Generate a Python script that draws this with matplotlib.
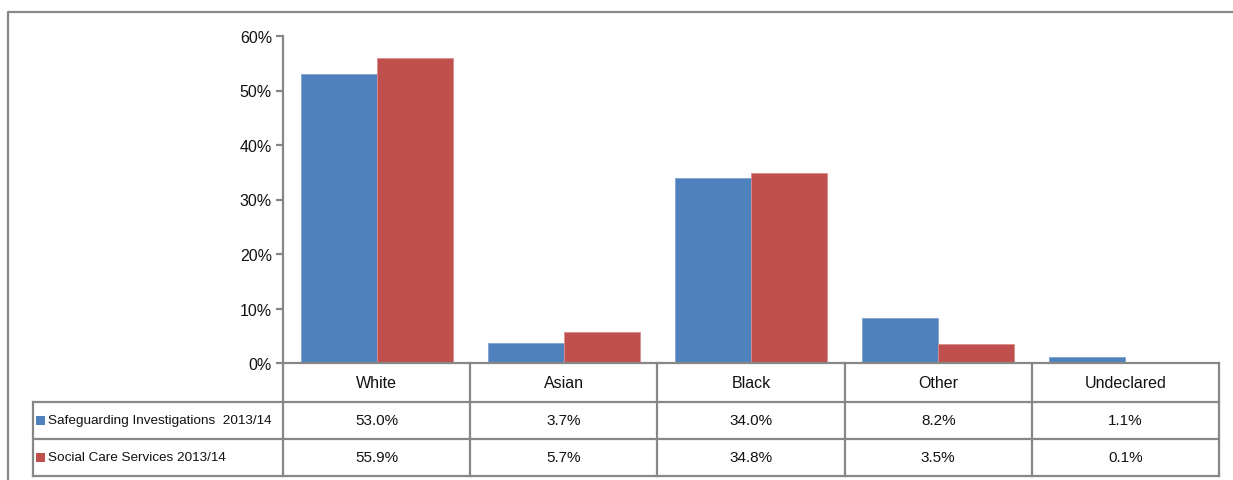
import matplotlib
matplotlib.use("Agg")
import matplotlib.pyplot as plt
from matplotlib.patches import Rectangle
from matplotlib.lines import Line2D

plt.rcParams['font.family'] = ['Liberation Sans Narrow', 'Liberation Sans', 'DejaVu Sans']

categories = ["White", "Asian", "Black", "Other", "Undeclared"]
series_names = ["Safeguarding Investigations  2013/14", "Social Care Services 2013/14"]
safeguarding = [53.0, 3.7, 34.0, 8.2, 1.1]
social_care = [55.9, 5.7, 34.8, 3.5, 0.1]
yticks = [0, 10, 20, 30, 40, 50, 60]

blue = "#4F81BD"
red = "#C0504D"
grid_gray = "#878787"
text_col = "#111111"

W, H = 1233, 481
fig = plt.figure(figsize=(W / 100, H / 100), dpi=100)

# plot area in pixel coordinates
L, R, T, B = 283, 1219, 37, 364
ax = fig.add_axes([L / W, 1 - B / H, (R - L) / W, (B - T) / H])

n = len(categories)
x = list(range(n))
bw = 0.406
ax.bar([i - bw / 2 for i in x], safeguarding, width=bw, color=blue,
       edgecolor="#7FA3D3", linewidth=0.6, zorder=2)
ax.bar([i + bw / 2 for i in x], social_care, width=bw, color=red,
       edgecolor="#D98E8C", linewidth=0.6, zorder=2)

ax.set_xlim(-0.5, n - 0.5)
ax.set_ylim(0, 60)
ax.set_yticks(yticks)
ax.set_yticklabels([f"{v}%" for v in yticks], fontsize=11.5, color=text_col)
ax.set_xticks([])
for s in ["top", "right"]:
    ax.spines[s].set_visible(False)
for s in ["left", "bottom"]:
    ax.spines[s].set_color(grid_gray)
    ax.spines[s].set_linewidth(1.6)
ax.tick_params(axis="y", direction="out", length=5, width=1.6, color=grid_gray, pad=3)

# data table below the axes, drawn in figure pixel coordinates
px = fig.transFigure


def fx(p):
    return p / W


def fy(p):
    return 1 - p / H


def hline(y, x0, x1):
    fig.add_artist(Line2D([fx(x0), fx(x1)], [fy(y), fy(y)], transform=px,
                          color=grid_gray, linewidth=1.6))


def vline(xp, y0, y1):
    fig.add_artist(Line2D([fx(xp), fx(xp)], [fy(y0), fy(y1)], transform=px,
                          color=grid_gray, linewidth=1.6))


row_y = [364, 403, 440, 477]
col_w = (R - L) / n
col_x = [L + i * col_w for i in range(n + 1)]
left_edge = 33

for y in row_y[1:]:
    hline(y, left_edge, R)
vline(L, B, row_y[-1])
vline(left_edge, row_y[1], row_y[-1])
for xc in col_x[1:]:
    vline(xc, B, row_y[-1])

for i, cat in enumerate(categories):
    cx = (col_x[i] + col_x[i + 1]) / 2
    fig.text(fx(cx), fy((row_y[0] + row_y[1]) / 2), cat, ha="center", va="center",
             fontsize=11.5, color=text_col)
    fig.text(fx(cx), fy((row_y[1] + row_y[2]) / 2), f"{safeguarding[i]:.1f}%",
             ha="center", va="center", fontsize=11, color=text_col)
    fig.text(fx(cx), fy((row_y[2] + row_y[3]) / 2), f"{social_care[i]:.1f}%",
             ha="center", va="center", fontsize=11, color=text_col)

for k, (name, col) in enumerate(zip(series_names, [blue, red])):
    yc = (row_y[k + 1] + row_y[k + 2]) / 2
    fig.add_artist(Rectangle((fx(36), fy(yc + 4.5)), 9 / W, 9 / H, transform=px,
                             facecolor=col, edgecolor="none"))
    fig.text(fx(48), fy(yc), name, ha="left", va="center", fontsize=9.7,
             color=text_col)

# outer chart border
fig.add_artist(Line2D([fx(8), fx(8), fx(W)], [fy(H), fy(13), fy(13)], transform=px,
                      color=grid_gray, linewidth=1.6))

fig.savefig("out.png", dpi=100)
